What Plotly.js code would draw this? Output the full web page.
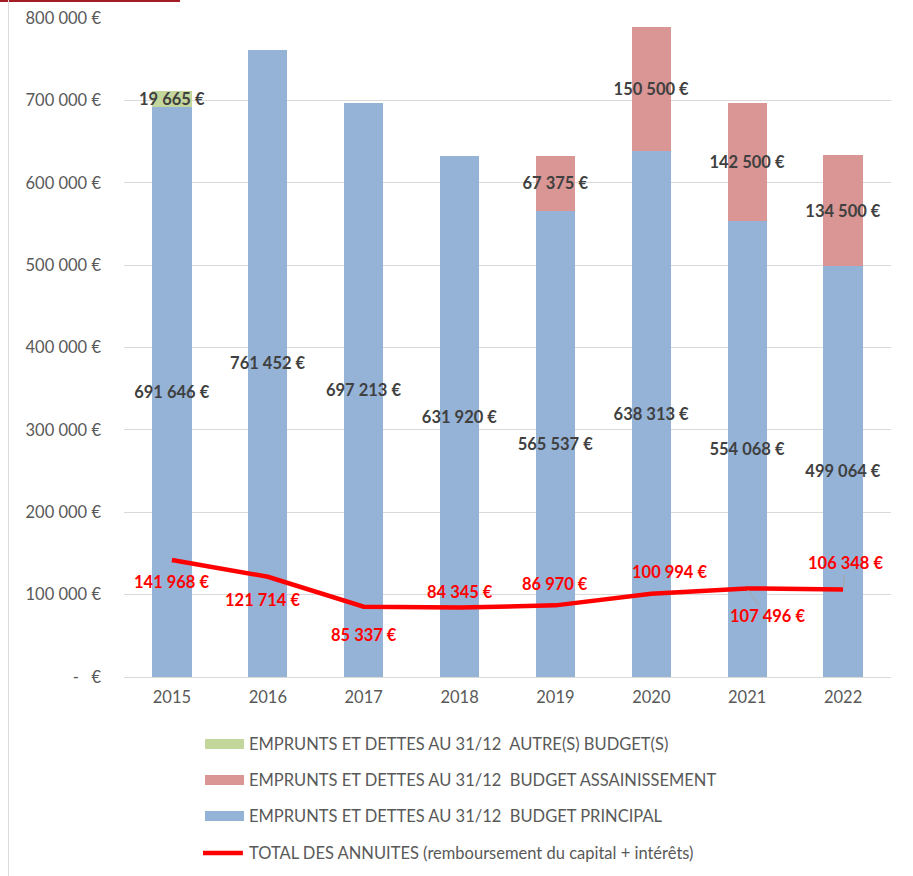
<!DOCTYPE html>
<html>
<head>
<meta charset="utf-8">
<script src="https://cdn.plot.ly/plotly-3.0.1.min.js"></script>
<style>
  html, body { margin: 0; padding: 0; background: #fff; }
  #chart { width: 913px; height: 876px; position: relative; }
  #topbar { position: absolute; left: 0; top: 0; width: 180px; height: 2px; background: #a31c24; z-index: 5; }
  #leftbar { position: absolute; left: 8px; top: 0; width: 1px; height: 876px; background: #dcdcdc; z-index: 5; }
</style>
</head>
<body>
<div id="chart"></div>
<div id="topbar"></div>
<div id="leftbar"></div>
<script>
// ---- data ----
const years = ['2015', '2016', '2017', '2018', '2019', '2020', '2021', '2022'];
const principal = [691646, 761452, 697213, 631920, 565537, 638313, 554068, 499064];
const assainissement = [null, null, null, null, 67375, 150500, 142500, 134500];
const autres = [19665, null, null, null, null, null, null, null];
const annuites = [141968, 121714, 85337, 84345, 86970, 100994, 107496, 106348];
const yTickValues = [0, 100000, 200000, 300000, 400000, 500000, 600000, 700000, 800000];
const seriesNames = [
  'EMPRUNTS ET DETTES AU 31/12  AUTRE(S) BUDGET(S)',
  'EMPRUNTS ET DETTES AU 31/12  BUDGET ASSAINISSEMENT',
  'EMPRUNTS ET DETTES AU 31/12  BUDGET PRINCIPAL',
  'TOTAL DES ANNUITES (remboursement du capital + intérêts)'
];

// ---- presentation ----
const FONT = 'Lato, "Open Sans", "DejaVu Sans", sans-serif';
const C_BLUE = '#95b3d7', C_RED = '#d99694', C_GREEN = '#c3d69b', C_LINE = '#ff0000';
const GREY = '#595959', DARK = '#404040';
const LBL = 16.5;
// label offsets (px) for the line labels: [xshift, yshift(up positive), leader]
const lineLabelOffsets = [[0, -22, false], [-5, -23, false], [0, -28, false], [0, 16, false],
                          [0, 21, false], [18, 22, false], [20, -28, true], [2, 26, true]];

function fmt(v) {
  if (v === null || v === undefined) return '';
  return String(Math.round(v)).replace(/\B(?=(\d{3})+(?!\d))/g, '\u00a0') + '\u00a0€';
}
function tickFmt(v) { return v === 0 ? '-\u00a0\u00a0\u00a0€' : fmt(v); }

const barCommon = {
  type: 'bar', x: years, textposition: 'inside', insidetextanchor: 'middle', textangle: 0,
  constraintext: 'none', cliponaxis: false, showlegend: false, hoverinfo: 'skip',
  textfont: { family: FONT, size: LBL, color: DARK, weight: 700 },
  insidetextfont: { family: FONT, size: LBL, color: DARK, weight: 700 }
};

const traces = [
  Object.assign({}, barCommon, { name: seriesNames[2], y: principal, text: principal.map(fmt),
    marker: { color: C_BLUE, line: { width: 0 } } }),
  Object.assign({}, barCommon, { name: seriesNames[1], y: assainissement, text: assainissement.map(fmt),
    marker: { color: C_RED, line: { width: 0 } } }),
  Object.assign({}, barCommon, { name: seriesNames[0], y: autres, text: autres.map(fmt),
    marker: { color: C_GREEN, line: { width: 0 } } }),
  { type: 'scatter', mode: 'lines', name: seriesNames[3], x: years, y: annuites,
    line: { color: C_LINE, width: 4.5 }, showlegend: false, hoverinfo: 'skip', cliponaxis: false }
];

const annotations = annuites.map((v, i) => {
  const o = lineLabelOffsets[i];
  const a = { x: i, y: v, xref: 'x', yref: 'y', text: fmt(v),
    font: { family: FONT, size: LBL, color: C_LINE, weight: 700 } };
  if (o[2]) {
    Object.assign(a, { showarrow: true, arrowhead: 0, arrowwidth: 1, arrowcolor: '#a6a6a6',
      ax: o[0], ay: -o[1], standoff: 2 });
  } else {
    Object.assign(a, { showarrow: false, xshift: o[0], yshift: o[1] });
  }
  return a;
});

// custom legend (paper coords)
const legendColors = [C_GREEN, C_RED, C_BLUE, C_LINE];
const legendRowY = [-0.1017, -0.1563, -0.2109, -0.2671];
const shapes = [];
legendColors.forEach((c, i) => {
  if (i < 3) {
    shapes.push({ type: 'rect', xref: 'paper', yref: 'paper', x0: 0.1056, x1: 0.1565,
      y0: legendRowY[i] - 0.0076, y1: legendRowY[i] + 0.0076, fillcolor: c, line: { width: 0 } });
  } else {
    shapes.push({ type: 'line', xref: 'paper', yref: 'paper', x0: 0.1030, x1: 0.1550,
      y0: legendRowY[i], y1: legendRowY[i], line: { color: c, width: 4.5 } });
  }
  annotations.push({ xref: 'paper', yref: 'paper', x: 0.161, y: legendRowY[i], xanchor: 'left',
    yanchor: 'middle', showarrow: false, text: seriesNames[i],
    font: { family: FONT, size: 16.5, color: GREY } });
});

const layout = {
  width: 913, height: 876,
  margin: { l: 124, r: 22, t: 18, b: 199 },
  paper_bgcolor: '#ffffff', plot_bgcolor: '#ffffff',
  barmode: 'stack', bargap: 0.59,
  font: { family: FONT, size: 16, color: GREY },
  xaxis: { type: 'category', range: [-0.5, 7.5], showgrid: false, zeroline: false, showline: false, ticks: '',
    tickfont: { family: FONT, size: 16.5, color: GREY }, ticklabelstandoff: 8 },
  yaxis: { range: [0, 800000], tickvals: yTickValues, ticktext: yTickValues.map(tickFmt),
    showgrid: true, gridcolor: '#d9d9d9', gridwidth: 1, zeroline: true, zerolinecolor: '#d9d9d9',
    zerolinewidth: 1, showline: false, ticks: '', ticklabelstandoff: 22,
    tickfont: { family: FONT, size: 16.5, color: GREY } },
  annotations: annotations,
  shapes: shapes,
  showlegend: false
};

Plotly.newPlot('chart', traces, layout, { staticPlot: true, displayModeBar: false });
</script>
</body>
</html>
